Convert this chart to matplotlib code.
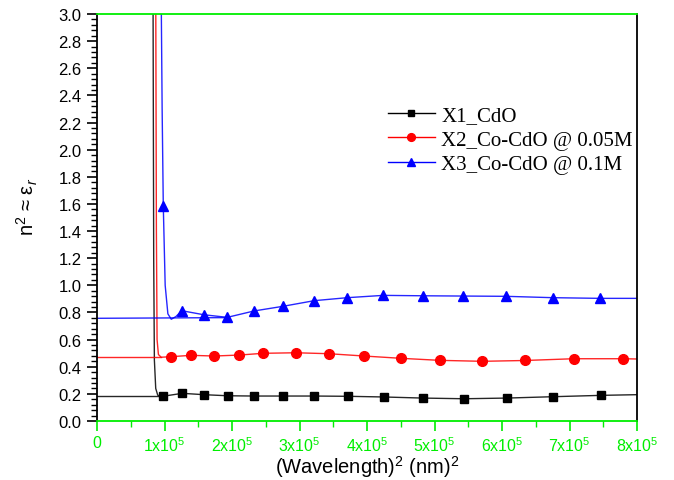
import matplotlib
matplotlib.use("Agg")
import matplotlib.pyplot as plt
from matplotlib.lines import Line2D
from matplotlib.ticker import MultipleLocator, FixedLocator, FuncFormatter

plt.rcParams['font.family'] = ['Liberation Sans', 'DejaVu Sans']
plt.rcParams['mathtext.fontset'] = 'custom'
plt.rcParams['mathtext.rm'] = 'Liberation Sans'
plt.rcParams['mathtext.it'] = 'Liberation Sans:italic'

SCALE = 1e5

# ---- data (x in units of 1e5 nm^2) ----
labels = ['X1_CdO', 'X2_Co-CdO @ 0.05M', 'X3_Co-CdO @ 0.1M']

# black: X1_CdO
x1_mark = [0.973, 1.264, 1.585, 1.936, 2.326, 2.751, 3.219, 3.723, 4.252, 4.825, 5.437, 6.07, 6.751, 7.467]
y1_mark = [0.182, 0.204, 0.194, 0.186, 0.184, 0.184, 0.184, 0.182, 0.177, 0.169, 0.164, 0.169, 0.179, 0.189]
x1_line = [0.83, 0.84, 0.85, 0.87, 0.90, 0.93] + x1_mark + [8.0]
y1_line = [3.2, 1.2, 0.45, 0.24, 0.19, 0.185] + y1_mark + [0.194]
x1_base = [0.0, 0.93]
y1_base = [0.185, 0.185]

# red: X2
x2_mark = [1.096, 1.393, 1.738, 2.104, 2.464, 2.948, 3.433, 3.956, 4.504, 5.081, 5.708, 6.34, 7.062, 7.797]
y2_mark = [0.474, 0.484, 0.479, 0.486, 0.499, 0.503, 0.496, 0.479, 0.462, 0.447, 0.440, 0.446, 0.459, 0.459]
x2_line = [0.87, 0.88, 0.89, 0.91, 0.95] + x2_mark + [8.0]
y2_line = [3.2, 1.4, 0.60, 0.49, 0.47] + y2_mark + [0.457]
x2_base = [0.0, 0.95]
y2_base = [0.469, 0.469]

# blue: X3
x3_mark = [0.982, 1.255, 1.585, 1.93, 2.326, 2.751, 3.219, 3.708, 4.241, 4.825, 5.427, 6.059, 6.751, 7.452]
y3_mark = [1.587, 0.813, 0.783, 0.764, 0.811, 0.845, 0.887, 0.909, 0.926, 0.923, 0.921, 0.919, 0.909, 0.904]
x3_line = [0.95, 0.965, 0.982, 1.01, 1.05, 1.10, 1.17, 1.255, 1.585, 1.93, 2.326, 2.751, 3.219, 3.708,
           4.241, 4.825, 5.427, 6.059, 6.751, 7.452, 8.0]
y3_line = [3.2, 2.3, 1.587, 1.0, 0.79, 0.75, 0.77, 0.813, 0.783, 0.764, 0.811, 0.845, 0.887, 0.909,
           0.926, 0.923, 0.921, 0.919, 0.909, 0.904, 0.904]
x3_base = [0.0, 1.93]
y3_base = [0.757, 0.762]

x_ticks = [0, 1, 2, 3, 4, 5, 6, 7, 8]
y_ticks = [0.0, 0.2, 0.4, 0.6, 0.8, 1.0, 1.2, 1.4, 1.6, 1.8, 2.0, 2.2, 2.4, 2.6, 2.8, 3.0]

GREEN = '#00ee00'

fig = plt.figure(figsize=(6.74, 4.81), dpi=100)
ax = fig.add_axes([97/674, 1 - 422/481, 540/674, 407/481])

series = [
    (x1_line, y1_line, x1_base, y1_base, x1_mark, y1_mark, 'black', 's', 6),
    (x2_line, y2_line, x2_base, y2_base, x2_mark, y2_mark, 'red', 'o', 7),
    (x3_line, y3_line, x3_base, y3_base, x3_mark, y3_mark, 'blue', '^', 7.5),
]
handles = []
for (xl, yl, xb, yb, xm, ym, c, m, ms), lab in zip(series, labels):
    ax.plot([v * SCALE for v in xl], yl, color=c, lw=1.0, alpha=0.85, zorder=2)
    ax.plot([v * SCALE for v in xb], yb, color=c, lw=1.0, alpha=0.85, zorder=2)
    ax.plot([v * SCALE for v in xm], ym, linestyle='none', marker=m, ms=ms, color=c, zorder=3)
    handles.append(Line2D([], [], color=c, lw=1.0, marker=m, ms=ms * 0.8))

ax.set_xlim(0, 8 * SCALE)
ax.set_ylim(0, 3.0)

ax.xaxis.set_major_locator(FixedLocator([t * SCALE for t in x_ticks]))
ax.xaxis.set_minor_locator(MultipleLocator(0.5 * SCALE))
ax.xaxis.set_major_formatter(FuncFormatter(
    lambda v, p: '0' if abs(v) < 1 else r'%dx10$^{5}$' % round(v / SCALE)))
ax.yaxis.set_major_locator(FixedLocator(y_ticks))
ax.yaxis.set_minor_locator(MultipleLocator(0.04))
ax.yaxis.set_major_formatter(FuncFormatter(lambda v, p: '%.1f' % v))

ax.tick_params(axis='y', which='major', direction='out', length=7, width=1.2, labelsize=12, pad=4, colors='black')
ax.tick_params(axis='y', which='minor', direction='out', length=4, width=1.0)
ax.tick_params(axis='x', which='major', direction='out', length=7, width=1.2, labelsize=11.5, pad=3,
               colors=GREEN)
ax.tick_params(axis='x', which='minor', direction='out', length=4, width=1.0, colors=GREEN)

for s in ['left', 'right']:
    ax.spines[s].set_color('black')
    ax.spines[s].set_linewidth(1.3)
for s in ['top', 'bottom']:
    ax.spines[s].set_color(GREEN)
    ax.spines[s].set_linewidth(1.3)

ax.set_xlabel(r'(Wavelength)$^{2}$ (nm)$^{2}$', fontsize=14.5, labelpad=0)
ax.set_ylabel(r'n$^{2}$ ≈ ε$_{r}$', fontsize=14.5, labelpad=13)
ax.yaxis.label.set_y((422 - 207) / 407)

leg = fig.legend(handles, labels, loc='upper left', bbox_to_anchor=(388/674, 1 - 107/481),
                 frameon=False, prop={'family': 'Liberation Serif', 'size': 15},
                 handlelength=2.25, handletextpad=0.3, labelspacing=0.22, borderpad=0, borderaxespad=0)

fig.savefig('out.png', dpi=100)
